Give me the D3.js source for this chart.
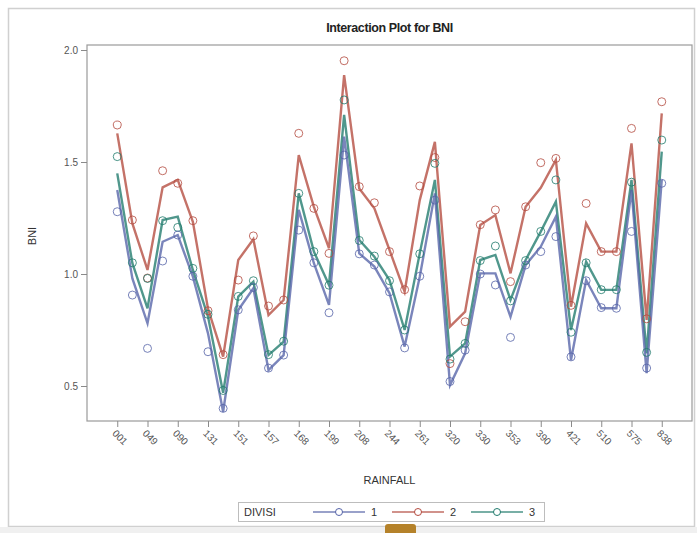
<!DOCTYPE html>
<html><head><meta charset="utf-8">
<script src="https://cdn.jsdelivr.net/npm/d3@7"></script>
<style>body{margin:0;background:#fff}svg{display:block}text{font-family:"Liberation Sans",Arial,sans-serif}</style>
</head><body>
<svg id="c" width="697" height="533"></svg>
<script>
const categories = ["001","021","049","065","090","114","131","141","151","154","157","162","168","185","199","203","208","226","244","252","261","290","320","325","330","341","353","372","390","405","421","465","510","542","575","706","838"];
const tickLabels = ["001","049","090","131","151","157","168","199","208","244","261","320","330","353","390","421","510","575","838"];
const groups = ["1","2","3"];
const meanDiv1 = [1.375,0.98,0.78,1.144,1.174,0.988,0.735,0.385,0.839,0.936,0.571,0.638,1.286,1.048,0.862,1.613,1.092,1.033,0.914,0.676,0.988,1.36,0.504,0.646,1.003,1.003,0.809,1.04,1.122,1.256,0.616,0.973,0.847,0.847,1.375,0.557,1.42];
const meanDiv2 = [1.628,1.226,1.018,1.387,1.42,1.233,0.845,0.631,1.0625,1.155,0.817,0.884,1.531,1.30,1.115,1.888,1.382,1.293,1.107,0.921,1.33,1.59,0.765,0.832,1.219,1.263,1.003,1.30,1.385,1.509,0.854,1.226,1.10,1.10,1.583,0.795,1.717];
const meanDiv3 = [1.449,1.048,0.847,1.241,1.256,1.018,0.81,0.47,0.899,0.966,0.638,0.698,1.36,1.10,0.951,1.71,1.152,1.077,0.973,0.75,1.092,1.42,0.631,0.69,1.0625,1.085,0.884,1.0625,1.189,1.323,0.75,1.055,0.929,0.929,1.42,0.646,1.546];
const obsDiv1 = [1.278,0.906,0.668,1.058,1.174,0.99,0.653,0.40,0.84,0.94,0.58,0.638,1.196,1.05,0.827,1.531,1.09,1.04,0.92,0.67,0.99,1.33,0.52,0.66,1.00,0.951,0.717,1.04,1.10,1.167,0.63,0.97,0.85,0.847,1.19,0.58,1.405];
const obsDiv2 = [1.665,1.241,0.982,1.461,1.405,1.238,0.836,0.64,0.973,1.17,0.857,0.884,1.628,1.293,1.092,1.952,1.39,1.318,1.10,0.93,1.393,1.52,0.60,0.787,1.22,1.286,0.966,1.30,1.497,1.516,0.86,1.315,1.10,1.10,1.65,0.80,1.769];
const obsDiv3 = [1.524,1.05,0.98,1.238,1.208,1.025,0.82,0.48,0.90,0.97,0.64,0.70,1.36,1.10,0.95,1.777,1.15,1.08,0.97,0.75,1.09,1.494,0.62,0.69,1.06,1.125,0.88,1.06,1.19,1.42,0.74,1.05,0.93,0.93,1.41,0.65,1.598];
const yTicks = [0.5,1.0,1.5,2.0];

const colors = ["#5563a8","#b34a3e","#1f7a6c"];
const means = [meanDiv1, meanDiv2, meanDiv3];
const obs = [obsDiv1, obsDiv2, obsDiv3];

const svg = d3.select("#c");
const L = 87, R = 692, T = 45, B = 421;
const x = d3.scalePoint().domain(categories).range([L, R]).padding(2);
const y = d3.scaleLinear().domain([0.5, 2.0]).range([386, 50]);

svg.append("rect").attr("x",8.5).attr("y",8.5).attr("width",686).attr("height",518)
  .attr("fill","none").attr("stroke","#d0d0d0").attr("stroke-width",1.5);
svg.append("rect").attr("x",0).attr("y",527).attr("width",697).attr("height",6).attr("fill","#f0f0f0");
svg.append("path").attr("d","M385,533 L385,527 Q385,524 388,524 L413,524 Q416,524 416,527 L416,533 Z").attr("fill","#b5822a");

svg.append("text").attr("x",(L+R)/2).attr("y",32).attr("text-anchor","middle")
  .attr("font-size",12.5).attr("font-weight","bold").attr("fill","#222").attr("letter-spacing","-0.4")
  .text("Interaction Plot for BNI");

svg.append("rect").attr("x",L).attr("y",T).attr("width",R-L).attr("height",B-T)
  .attr("fill","none").attr("stroke","#9a9a9a").attr("stroke-width",1.2);

const ya = svg.append("g").attr("transform",`translate(${L},0)`)
  .call(d3.axisLeft(y).tickValues(yTicks).tickFormat(d3.format(".1f")).tickSize(6));
ya.select(".domain").remove();
ya.selectAll("line").attr("stroke","#8a8a8a");
ya.selectAll("text").attr("font-size",10).attr("fill","#555").attr("font-family","Liberation Sans,Arial");

const xa = svg.append("g").attr("transform",`translate(0,${B})`)
  .call(d3.axisBottom(x).tickValues(tickLabels).tickSize(6));
xa.select(".domain").remove();
xa.selectAll("line").attr("stroke","#8a8a8a");
xa.selectAll("text").attr("font-size",10).attr("fill","#555").attr("font-family","Liberation Sans,Arial")
  .attr("text-anchor","start").attr("dy",null).attr("y",0)
  .attr("transform","translate(-6,13) rotate(45)");

svg.append("text").attr("x",(L+R)/2).attr("y",484).attr("text-anchor","middle")
  .attr("font-size",11).attr("fill","#333").text("RAINFALL");
svg.append("text").attr("transform","translate(36,236) rotate(-90)").attr("text-anchor","middle")
  .attr("font-size",11).attr("fill","#333").text("BNI");

const line = d3.line().x((d,i)=>x(categories[i])).y(d=>y(d));
const plot = svg.append("g");
[1,2,0].forEach(g=>{
  plot.append("path").datum(means[g]).attr("d",line).attr("fill","none")
    .attr("stroke",colors[g]).attr("stroke-width",2.4).attr("stroke-opacity",0.78).attr("stroke-linejoin","miter");
});
[1,2,0].forEach(g=>{
  plot.selectAll(null).data(obs[g]).enter().append("circle")
    .attr("cx",(d,i)=>x(categories[i])).attr("cy",d=>y(d)).attr("r",4)
    .attr("fill","none").attr("stroke",colors[g]).attr("stroke-width",1).attr("stroke-opacity",0.8);
});

const lg = svg.append("g");
lg.append("rect").attr("x",238.5).attr("y",502.5).attr("width",306).attr("height",19)
  .attr("fill","#fff").attr("stroke","#bdbdbd");
lg.append("text").attr("x",244).attr("y",516).attr("font-size",11).attr("fill","#333").text("DIVISI");
const lx = [313, 392, 471];
groups.forEach((g,i)=>{
  lg.append("line").attr("x1",lx[i]).attr("x2",lx[i]+52).attr("y1",512).attr("y2",512)
    .attr("stroke",colors[i]).attr("stroke-width",1.5).attr("stroke-opacity",0.8);
  lg.append("circle").attr("cx",lx[i]+26).attr("cy",512).attr("r",3.5).attr("fill","#fff")
    .attr("stroke",colors[i]).attr("stroke-width",1);
  lg.append("text").attr("x",lx[i]+58).attr("y",516).attr("font-size",11).attr("fill","#333").text(g);
});
</script>
</body></html>
